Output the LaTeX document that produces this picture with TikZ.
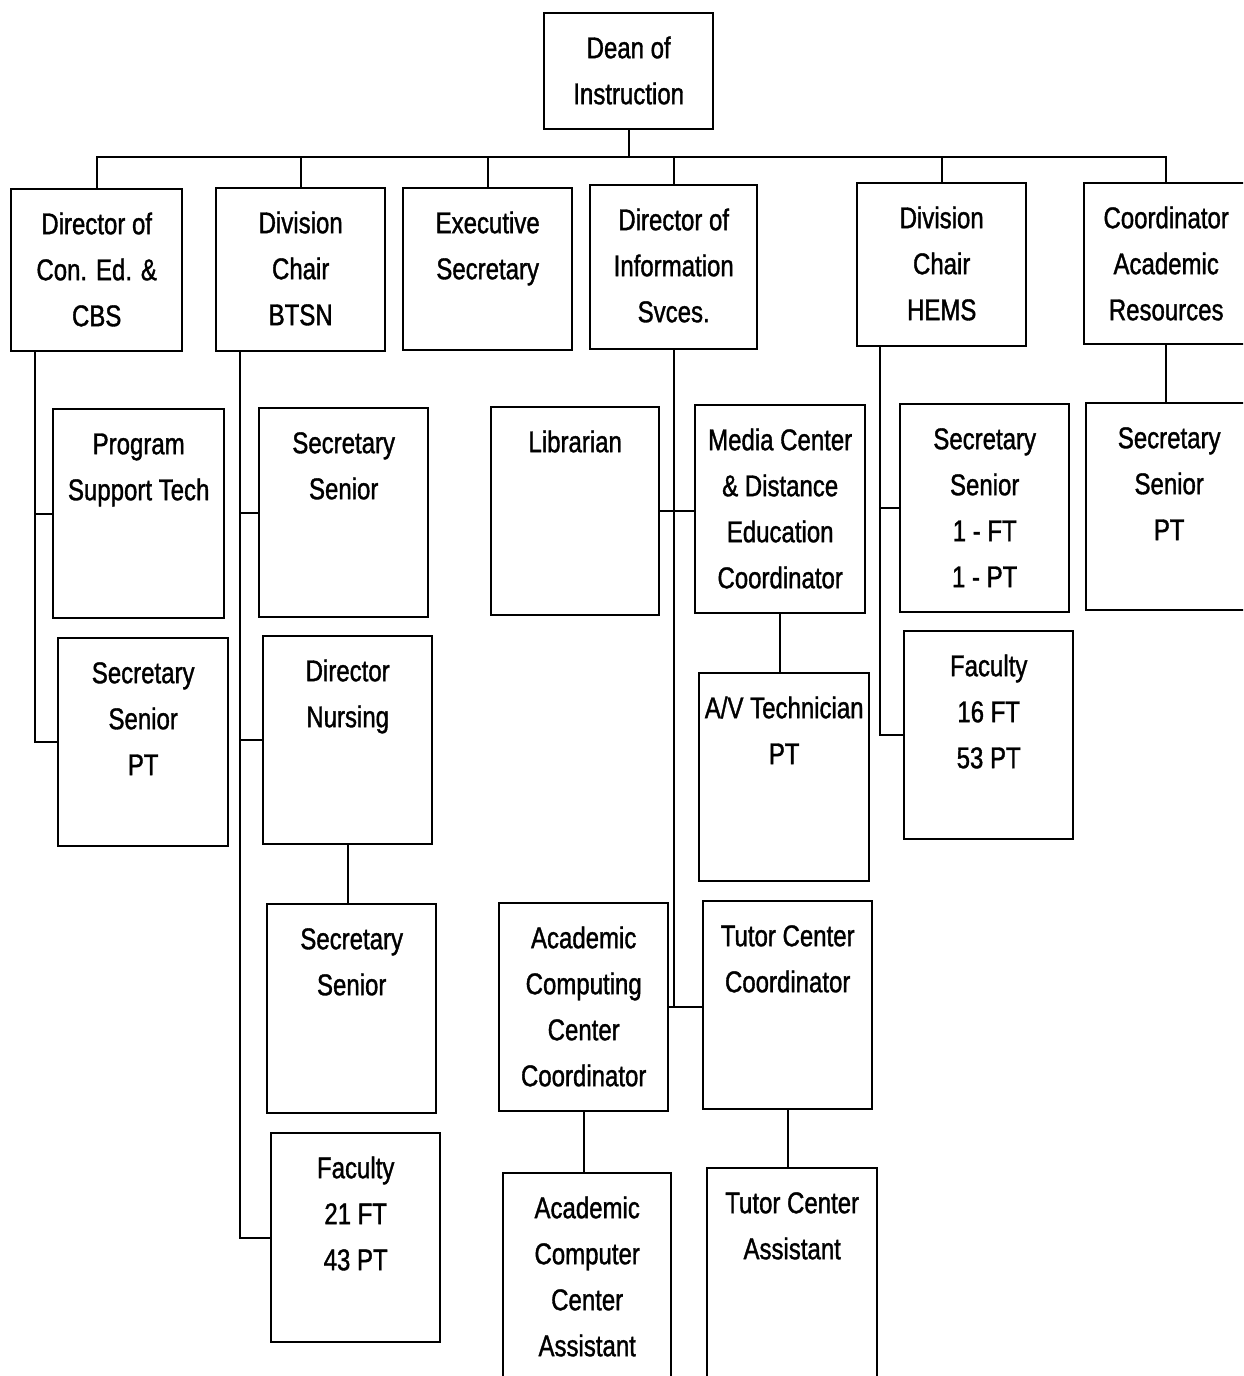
\documentclass[tikz,border=0pt]{standalone}
\usepackage{fontspec}
\setmainfont{Liberation Sans}[FakeStretch=0.8, FakeBold=1.2]
\usetikzlibrary{calc}

% top-aligned box text: width, height, lines
\newcommand\boxtext[3]{\parbox[t][#2pt][t]{#1pt}{\centering\rule{0pt}{45pt}#3}}

\begin{document}
\begin{tikzpicture}[x=1pt, y=-1pt,
    unit/.style={draw=black, line width=2.4pt, fill=white, anchor=north west,
                 inner sep=0pt, font=\fontsize{30}{46}\selectfont},
    link/.style={draw=black, line width=2.2pt}
  ]
    \useasboundingbox (0,0) rectangle (1243,1376);
    \clip (0,0) rectangle (1243,1376);

    \node[unit] (dean) at (543,12) {\boxtext{169}{116}{Dean of\\Instruction}};

    % first row
    \node[unit] (conEd)   at (10,188)   {\boxtext{171}{162}{Director of\\Con. Ed. \&\\CBS}};
    \node[unit] (btsn)    at (215,187)  {\boxtext{169}{163}{Division\\Chair\\BTSN}};
    \node[unit] (execSec) at (402,187)  {\boxtext{169}{162}{Executive\\Secretary}};
    \node[unit] (infoSv)  at (589,184)  {\boxtext{167}{164}{Director of\\Information\\Svces.}};
    \node[unit] (hems)    at (856,182)  {\boxtext{169}{163}{Division\\Chair\\HEMS}};
    \node[unit] (coordAR) at (1083,182) {\boxtext{164}{161}{Coordinator\\Academic\\Resources}};

    % Con. Ed. & CBS
    \node[unit] (progTech) at (52,408) {\boxtext{171}{209}{Program\\Support Tech}};
    \node[unit] (secPT)    at (57,637) {\boxtext{170}{208}{Secretary\\Senior\\PT}};

    % BTSN
    \node[unit] (secB)    at (258,407)  {\boxtext{169}{209}{Secretary\\Senior}};
    \node[unit] (dirNurs) at (262,635)  {\boxtext{169}{208}{Director\\Nursing}};
    \node[unit] (secNurs) at (266,903)  {\boxtext{169}{209}{Secretary\\Senior}};
    \node[unit] (facB)    at (270,1132) {\boxtext{169}{209}{Faculty\\21 FT\\43 PT}};

    % Information Svces.
    \node[unit] (libr)   at (490,406)  {\boxtext{168}{208}{Librarian}};
    \node[unit] (media)  at (694,404)  {\boxtext{170}{208}{Media Center\\\& Distance\\Education\\Coordinator}};
    \node[unit] (avTech) at (698,672)  {\boxtext{170}{208}{A/V Technician\\PT}};
    \node[unit] (acadCC) at (498,902)  {\boxtext{169}{208}{Academic\\Computing\\Center\\Coordinator}};
    \node[unit] (tutorC) at (702,900)  {\boxtext{169}{208}{Tutor Center\\Coordinator}};
    \node[unit] (acadCA) at (502,1172) {\boxtext{168}{240}{Academic\\Computer\\Center\\Assistant}};
    \node[unit] (tutorA) at (706,1167) {\boxtext{170}{240}{Tutor Center\\Assistant}};

    % HEMS
    \node[unit] (secHems) at (899,403) {\boxtext{169}{208}{Secretary\\Senior\\1 - FT\\1 - PT}};
    \node[unit] (facHems) at (903,630) {\boxtext{169}{208}{Faculty\\16 FT\\53 PT}};

    % Academic Resources
    \node[unit] (secAR) at (1085,402) {\boxtext{166}{207}{Secretary\\Senior\\PT}};

    % dean to first row
    \coordinate (bus) at (0,157);
    \draw[link] (dean.south) -- (dean.south |- bus);
    \draw[link] (conEd.north) -- (conEd.north |- bus) -| (coordAR.north);
    \foreach \n in {btsn,execSec,infoSv,hems}
      \draw[link] (\n.north) -- (\n.north |- bus);

    % spines on the left side
    \draw[link] ([xshift=25]conEd.south west) |- (secPT.west);
    \draw[link] ([xshift=25]conEd.south west |- progTech.west) -- (progTech.west);
    \draw[link] ([xshift=25]btsn.south west) |- (facB.west);
    \foreach \n in {secB,dirNurs}
      \draw[link] ([xshift=25]btsn.south west |- \n.west) -- (\n.west);
    \draw[link] ([xshift=24]hems.south west) |- (facHems.west);
    \draw[link] ([xshift=24]hems.south west |- secHems.west) -- (secHems.west);

    % information services
    \draw[link] (infoSv.south) -- (infoSv.south |- acadCC.east);
    \draw[link] (libr.east) -- (libr.east -| media.west);
    \draw[link] (acadCC.east) -- (acadCC.east -| tutorC.west);

    % single reports
    \draw[link] (dirNurs.south) -- (dirNurs.south |- secNurs.north);
    \draw[link] (media.south) -- (media.south |- avTech.north);
    \draw[link] (acadCC.south) -- (acadCC.south |- acadCA.north);
    \draw[link] (tutorC.south) -- (tutorC.south |- tutorA.north);
    \draw[link] (coordAR.south) -- (coordAR.south |- secAR.north);
\end{tikzpicture}
\end{document}
